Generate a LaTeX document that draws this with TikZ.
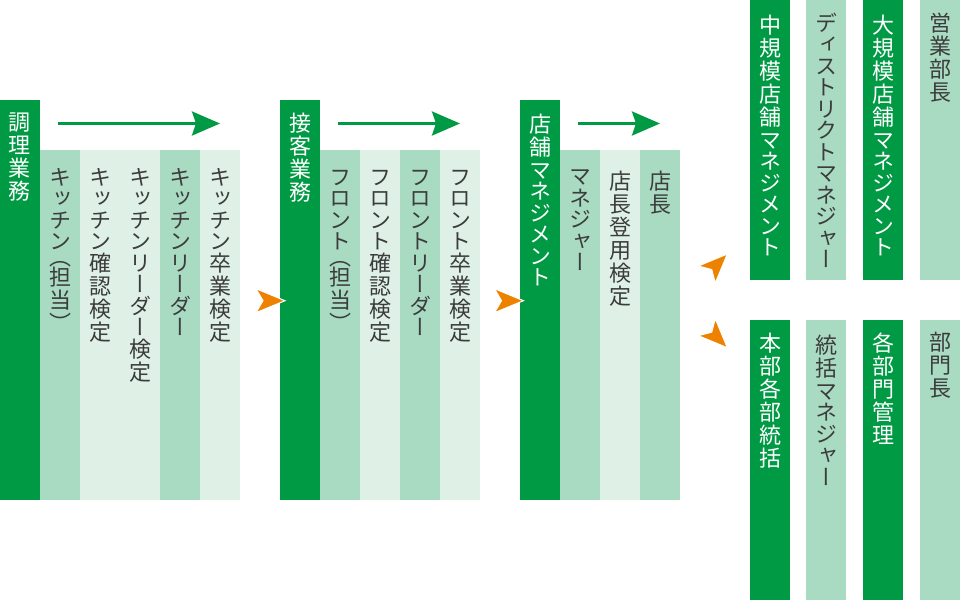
\documentclass[tikz,border=0pt]{standalone}
\usepackage{fontspec}
\newfontfamily\jp{Noto Sans CJK JP}[RawFeature=+vert]
\usetikzlibrary{arrows.meta}
\definecolor{dg}{HTML}{009A44}
\definecolor{mg}{HTML}{A8DBC2}
\definecolor{lg}{HTML}{DFF1E7}
\definecolor{og}{HTML}{EE8200}
\definecolor{tx}{HTML}{3C3C3C}
\ExplSyntaxOn
\dim_new:N \l_vt_prev_dim
\cs_new_protected:Npn \vt_char:n #1
  {
    \int_compare:nNnTF {`#1} = {"FF08}
      { \skip_set:Nn \baselineskip { \l_vt_prev_dim - 6pt } }
      { \skip_set:Nn \baselineskip { \l_vt_prev_dim } }
    \hbox_to_wd:nn {22pt} { \hss #1 \hss }
    \int_compare:nNnTF {`#1} < {"3100}
      { \dim_set:Nn \l_vt_prev_dim {21.5pt} }
      {
        \int_compare:nNnTF {`#1} > {"FF00}
          { \dim_set:Nn \l_vt_prev_dim {20pt} }
          { \dim_set:Nn \l_vt_prev_dim {23pt} }
      }
  }
\NewDocumentCommand\vt{m}
  {
    \vbox
      {
        \lineskiplimit=-100pt \lineskip=0pt
        \dim_set:Nn \l_vt_prev_dim {22pt}
        \tl_map_function:nN {#1} \vt_char:n
      }
  }
\ExplSyntaxOff
\begin{document}
\begin{tikzpicture}[x=1pt,y=-1pt,
  col/.style={rectangle, inner sep=0pt, outer sep=0pt, minimum width=40pt, anchor=north west},
  dcol/.style={col, fill=dg},
  mcol/.style={col, fill=mg},
  lcol/.style={col, fill=lg},
  wt/.style={inner sep=0pt, outer sep=0pt, anchor=north, font=\jp\fontsize{22}{22}\selectfont, text=white},
  bt/.style={wt, text=tx},
  garr/.style={draw=dg, line width=3pt, -{Stealth[length=28pt,width=24pt,inset=4pt]}},
  ohead/.pic={\filldraw[fill=og, draw=white, line width=1pt] (0,0) -- (-29,-12) -- (-22,0) -- (-29,12) -- cycle;}
]
\useasboundingbox (0,0) rectangle (960,600);
% group 1
\node[dcol, minimum height=400pt] (h1) at (0,100) {};
\node[mcol, minimum height=350pt] (c11) at (40,150) {};
\node[lcol, minimum height=350pt] (c12) at (80,150) {};
\node[lcol, minimum height=350pt] (c13) at (120,150) {};
\node[mcol, minimum height=350pt] (c14) at (160,150) {};
\node[lcol, minimum height=350pt] (c15) at (200,150) {};
% group 2
\node[dcol, minimum height=400pt] (h2) at (280,100) {};
\node[mcol, minimum height=350pt] (c21) at (320,150) {};
\node[lcol, minimum height=350pt] (c22) at (360,150) {};
\node[mcol, minimum height=350pt] (c23) at (400,150) {};
\node[lcol, minimum height=350pt] (c24) at (440,150) {};
% group 3
\node[dcol, minimum height=400pt] (h3) at (520,100) {};
\node[mcol, minimum height=350pt] (c31) at (560,150) {};
\node[lcol, minimum height=350pt] (c32) at (600,150) {};
\node[mcol, minimum height=350pt] (c33) at (640,150) {};
% right upper
\node[dcol, minimum height=280pt] (u1) at (750,0) {};
\node[mcol, minimum height=280pt] (u2) at (806,0) {};
\node[dcol, minimum height=280pt] (u3) at (863,0) {};
\node[mcol, minimum height=280pt] (u4) at (920,0) {};
% right lower
\node[dcol, minimum height=280pt] (l1) at (750,320) {};
\node[mcol, minimum height=280pt] (l2) at (806,320) {};
\node[dcol, minimum height=280pt] (l3) at (863,320) {};
\node[mcol, minimum height=280pt] (l4) at (920,320) {};
% green arrows
\coordinate (g1s) at (58,123.5);  \coordinate (g1e) at (220,123.5);
\coordinate (g2s) at (338,123.5); \coordinate (g2e) at (460,123.5);
\coordinate (g3s) at (578,123.5); \coordinate (g3e) at (660,123.5);
\draw[garr] (g1s) -- (g1e);
\draw[garr] (g2s) -- (g2e);
\draw[garr] (g3s) -- (g3e);
% orange arrow heads
\pic (o1) at (285,300.7) {ohead};
\pic (o2) at (523.5,300.7) {ohead};
\pic[rotate=45] (o3) at (727.3,254) {ohead};
\pic[rotate=-45] (o4) at (727.3,347.7) {ohead};
% texts
\node[wt] (th1) at (20,113) {\vt{調理業務}};
\node[bt] (t11) at (60,168) {\vt{キッチン（担当）}};
\node[bt] (t12) at (100,168) {\vt{キッチン確認検定}};
\node[bt] (t13) at (140,168) {\vt{キッチンリーダー検定}};
\node[bt] (t14) at (180,168) {\vt{キッチンリーダー}};
\node[bt] (t15) at (220,168) {\vt{キッチン卒業検定}};
\node[wt] (th2) at (300,113) {\vt{接客業務}};
\node[bt] (t21) at (340,170) {\vt{フロント（担当）}};
\node[bt] (t22) at (380,170) {\vt{フロント確認検定}};
\node[bt] (t23) at (420,170) {\vt{フロントリーダー}};
\node[bt] (t24) at (460,170) {\vt{フロント卒業検定}};
\node[wt] (th3) at (540,114) {\vt{店舗マネジメント}};
\node[bt] (t31) at (580,170) {\vt{マネジャー}};
\node[bt] (t32) at (620,171) {\vt{店長登用検定}};
\node[bt] (t33) at (660,171) {\vt{店長}};
\node[wt] (tu1) at (770,15) {\vt{中規模店舗マネジメント}};
\node[bt] (tu2) at (826,13) {\vt{ディストリクトマネジャー}};
\node[wt] (tu3) at (883,15) {\vt{大規模店舗マネジメント}};
\node[bt] (tu4) at (940,13) {\vt{営業部長}};
\node[wt] (tl1) at (770,333) {\vt{本部各部統括}};
\node[bt] (tl2) at (826,335) {\vt{統括マネジャー}};
\node[wt] (tl3) at (883,333) {\vt{各部門管理}};
\node[bt] (tl4) at (940,332) {\vt{部門長}};
\end{tikzpicture}
\end{document}
